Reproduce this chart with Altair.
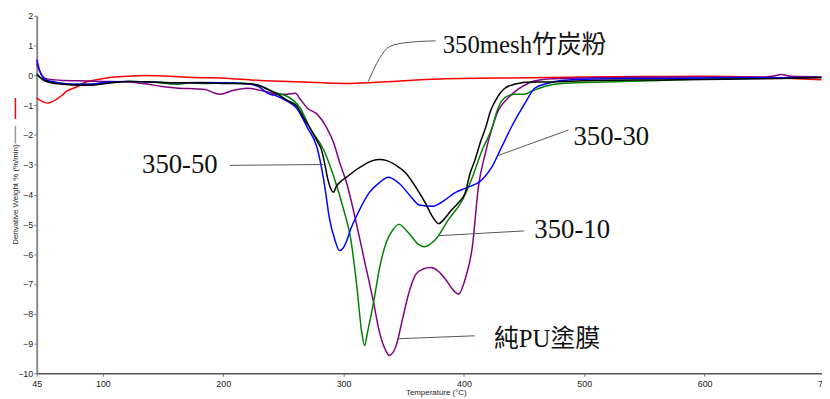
import altair as alt
import pandas as pd

# ---- data ----
black_T = [45, 52, 57, 67, 81, 89, 97, 108, 122, 140, 160, 180, 204, 220, 229, 237, 245, 253, 261, 268, 274, 278, 282, 284.5, 287, 289.5, 291.5, 294, 298, 303, 311, 317, 324, 330, 336, 343, 352, 360, 368, 374, 379, 383, 389, 395, 401, 405, 409, 414, 418, 422, 426, 430, 434, 440, 445, 451, 470, 508, 563, 617, 664, 697]
black_v = [0.03, -0.18, -0.25, -0.3, -0.33, -0.33, -0.3, -0.25, -0.2, -0.22, -0.25, -0.25, -0.27, -0.28, -0.33, -0.47, -0.63, -0.83, -1.03, -1.5, -1.9, -2.2, -2.55, -3.0, -3.5, -3.82, -3.92, -3.72, -3.55, -3.4, -3.15, -3.0, -2.86, -2.82, -2.86, -3.0, -3.29, -3.75, -4.29, -4.75, -4.98, -4.85, -4.55, -4.29, -3.95, -3.3, -2.86, -2.2, -1.76, -1.2, -0.86, -0.6, -0.43, -0.32, -0.27, -0.23, -0.22, -0.17, -0.15, -0.13, -0.1, -0.07]

blue_T = [45, 48, 52, 60, 67, 81, 89, 95, 105, 120, 140, 160, 180, 200, 220, 229, 237, 245, 253, 261, 270, 278, 283, 285, 288, 293, 296.5, 299.5, 302.6, 306, 311, 321, 330, 337, 346, 357, 363, 374, 384, 392, 401, 415, 423, 431, 440, 450.5, 458.8, 469.4, 481, 508, 563, 617, 697]
blue_v = [0.53, 0.1, -0.13, -0.22, -0.27, -0.3, -0.3, -0.27, -0.22, -0.2, -0.22, -0.25, -0.24, -0.25, -0.28, -0.37, -0.6, -0.7, -0.86, -1.1, -1.76, -2.43, -3.4, -3.9, -4.75, -5.55, -5.88, -5.8, -5.55, -5.15, -4.7, -3.95, -3.59, -3.42, -3.62, -4.12, -4.35, -4.39, -4.19, -3.95, -3.79, -3.5, -3.09, -2.43, -1.69, -0.95, -0.43, -0.27, -0.17, -0.12, -0.1, -0.08, -0.07]

green_T = [45, 50, 56, 67, 81, 95, 108, 122, 140, 155, 163, 172, 185, 200, 220, 229, 245, 253, 264, 272, 283.7, 292, 300, 306, 311, 315, 317.5, 320, 325, 329.7, 335.5, 341, 346, 354, 362.6, 367, 376.5, 387, 398.7, 407, 415, 423.4, 428.3, 434, 442, 450, 458, 467, 481, 508, 563, 617, 697]
green_v = [0.07, -0.15, -0.22, -0.27, -0.3, -0.28, -0.22, -0.2, -0.22, -0.28, -0.3, -0.25, -0.27, -0.25, -0.27, -0.33, -0.6, -0.7, -1.1, -1.76, -2.52, -3.42, -4.5, -5.5, -7.08, -8.6, -9.07, -8.6, -7.6, -6.5, -5.6, -5.18, -5.0, -5.29, -5.68, -5.75, -5.5, -4.85, -4.19, -3.42, -2.52, -1.76, -1.1, -0.75, -0.63, -0.63, -0.5, -0.37, -0.27, -0.23, -0.17, -0.1, -0.07]

purple_T = [45, 48, 52, 60, 67, 80, 100, 120, 135, 149, 163, 176, 185, 193, 198, 206, 220, 237, 245, 253, 260, 264, 270, 278, 286, 292, 297, 302.6, 308, 316.6, 324.8, 329.7, 335.5, 338, 343.7, 349, 354.4, 360, 366, 372.5, 378, 384.7, 390, 395.4, 401, 407, 412, 417.7, 423.4, 428.3, 436.6, 444.8, 453, 467, 481, 540, 600, 650, 656, 664, 672, 697]
purple_v = [0.4, 0.1, -0.1, -0.15, -0.17, -0.18, -0.2, -0.22, -0.28, -0.37, -0.43, -0.45, -0.47, -0.6, -0.63, -0.53, -0.43, -0.56, -0.63, -0.63, -0.6, -0.8, -1.1, -1.3, -1.76, -2.29, -2.96, -3.62, -4.5, -6.08, -7.6, -8.6, -9.27, -9.4, -9.07, -8.17, -7.28, -6.68, -6.5, -6.45, -6.55, -6.84, -7.15, -7.34, -6.84, -5.75, -3.75, -2.62, -1.76, -1.2, -0.76, -0.47, -0.27, -0.13, -0.1, -0.06, -0.05, -0.05, -0.03, 0.03, -0.03, -0.05]

red_T = [45, 50, 54, 58, 65, 70, 80, 83, 97, 106, 120, 136, 150, 177, 205, 231, 267, 302, 327, 350, 385, 426, 467, 549, 600, 640, 672, 697]
red_v = [-0.76, -0.88, -0.93, -0.88, -0.7, -0.53, -0.35, -0.27, -0.13, -0.07, -0.03, 0.0, -0.02, -0.07, -0.1, -0.17, -0.22, -0.27, -0.23, -0.18, -0.11, -0.09, -0.07, -0.04, -0.03, -0.05, -0.1, -0.15]

series_names = ["350mesh竹炭粉", "純PU塗膜", "350-10", "350-30", "350-50"]
series_colors = ["#FF0000", "#800080", "#008000", "#0000FF", "#000000"]

# annotation labels and their leader lines (data units)
label_text = ["350mesh竹炭粉", "350-30", "350-50", "350-10", "純PU塗膜"]
label_T = [382.3, 491.0, 132.5, 458.5, 425.0]
label_v = [1.02, -2.06, -3.02, -5.2, -8.84]
label_group = ["cjk", "num", "num", "num", "cjk"]

leader_id = ["a", "a", "a", "a", "a", "b", "b", "c", "c", "d", "d", "e", "e"]
leader_T = [320.6, 329.7, 337.9, 351.9, 376.5, 428.3, 487.0, 205.4, 283.1, 379.0, 450.0, 345.3, 409.0]
leader_v = [-0.2, 0.56, 0.96, 1.1, 1.16, -2.69, -1.83, -3.02, -2.99, -5.38, -5.22, -8.84, -8.74]

x_ticks = [45, 100, 200, 300, 400, 500, 600, 700]
y_ticks = list(range(-10, 3))

# ---- build tables ----
rows = []
for name, Ts, vs in [
    ("350mesh竹炭粉", red_T, red_v),
    ("純PU塗膜", purple_T, purple_v),
    ("350-10", green_T, green_v),
    ("350-30", blue_T, blue_v),
    ("350-50", black_T, black_v),
]:
    for t, v in zip(Ts, vs):
        rows.append({"series": name, "T": t, "v": v})
df = pd.DataFrame(rows)
labels_df = pd.DataFrame({"text": label_text, "T": label_T, "v": label_v, "grp": label_group})
leaders_df = pd.DataFrame({"id": leader_id, "T": leader_T, "v": leader_v})

xscale = alt.Scale(domain=[45, 700], range=[0, 796], nice=False, zero=False)
yscale = alt.Scale(domain=[-10, 2], nice=False, zero=False)

axis_font = "Liberation Sans, Arial, sans-serif"

xaxis = alt.Axis(
    values=x_ticks, tickCount=len(x_ticks), title="Temperature (°C)", labelFlush=False, grid=False,
    labelOverlap=False,
    tickSize=3, labelPadding=3, labelFontSize=9, labelFont=axis_font, labelColor="#222",
    domainColor="#555", domainWidth=1.5, tickColor="#777",
    titleFont=axis_font, titleFontSize=8, titleFontWeight="normal", titleColor="#222",
    titleX=403, titleY=19, titleAlign="center", titleBaseline="middle",
)
yaxis = alt.Axis(
    values=y_ticks, tickCount=len(y_ticks), title="Derivative Weight % (%/min)", grid=False,
    labelOverlap=False,
    tickSize=3, labelPadding=1, labelFontSize=9, labelFont=axis_font, labelColor="#222",
    domainColor="#8a8a8a", domainWidth=2, tickColor="#777",
    titleFont=axis_font, titleFontSize=8, titleFontWeight="normal", titleColor="#222",
    titleX=-21.5, titleY=180, titleAlign="center", titleBaseline="middle",
)

lines = alt.Chart(df).mark_line(strokeWidth=1.5, interpolate="monotone").encode(
    x=alt.X("T:Q", scale=xscale, axis=xaxis),
    y=alt.Y("v:Q", scale=yscale, axis=yaxis),
    color=alt.Color("series:N", scale=alt.Scale(domain=series_names, range=series_colors), legend=None),
    order=alt.Order("T:Q"),
)

leaders = alt.Chart(leaders_df).mark_line(strokeWidth=1, color="#555", interpolate="monotone").encode(
    x=alt.X("T:Q", scale=xscale),
    y=alt.Y("v:Q", scale=yscale),
    detail="id:N",
)

label_font = "Liberation Serif, Noto Sans CJK TC, serif"
texts_cjk = alt.Chart(labels_df).transform_filter(alt.datum.grp == "cjk").mark_text(
    align="left", baseline="middle", fontSize=25, font=label_font, color="#111",
).encode(
    x=alt.X("T:Q", scale=xscale),
    y=alt.Y("v:Q", scale=yscale),
    text="text:N",
)
texts_num = alt.Chart(labels_df).transform_filter(alt.datum.grp == "num").mark_text(
    align="left", baseline="middle", fontSize=27, font=label_font, color="#111",
).encode(
    x=alt.X("T:Q", scale=xscale),
    y=alt.Y("v:Q", scale=yscale),
    text="text:N",
)

mark_df = pd.DataFrame({"k": [0]})
red_mark = alt.Chart(mark_df).mark_rule(color="#FF0000", strokeWidth=1.5).encode(
    x=alt.value(-21.5), y=alt.value(83), y2=alt.value(104)
)
gray_mark = alt.Chart(mark_df).mark_rule(color="#999999", strokeWidth=1.5).encode(
    x=alt.value(-21.5), y=alt.value(111), y2=alt.value(129)
)

chart = alt.layer(lines, leaders, texts_cjk, texts_num, red_mark, gray_mark).properties(
    width=793, height=361,
    autosize=alt.AutoSizeParams(type="none"),
    padding={"left": 29, "top": 6, "right": 0, "bottom": 22},
).configure_view(stroke=None)

chart.save("out.html", embed_options={"renderer": "svg", "actions": False})
